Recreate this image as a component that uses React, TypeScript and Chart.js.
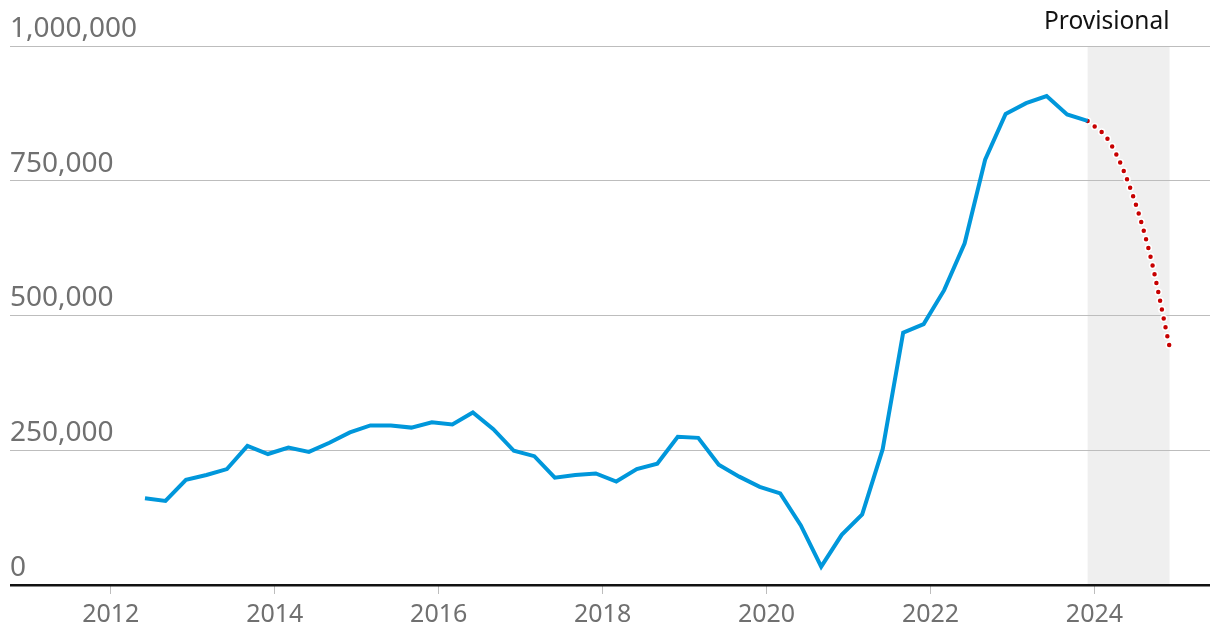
import React, { useEffect, useRef } from "react";
import { Chart, registerables } from "chart.js";

Chart.register(...registerables);

// Quarterly observations (plotted at the first day of the quarter's last month)
const quarters = [
  "Jun 2012", "Sep 2012", "Dec 2012",
  "Mar 2013", "Jun 2013", "Sep 2013", "Dec 2013",
  "Mar 2014", "Jun 2014", "Sep 2014", "Dec 2014",
  "Mar 2015", "Jun 2015", "Sep 2015", "Dec 2015",
  "Mar 2016", "Jun 2016", "Sep 2016", "Dec 2016",
  "Mar 2017", "Jun 2017", "Sep 2017", "Dec 2017",
  "Mar 2018", "Jun 2018", "Sep 2018", "Dec 2018",
  "Mar 2019", "Jun 2019", "Sep 2019", "Dec 2019",
  "Mar 2020", "Jun 2020", "Sep 2020", "Dec 2020",
  "Mar 2021", "Jun 2021", "Sep 2021", "Dec 2021",
  "Mar 2022", "Jun 2022", "Sep 2022", "Dec 2022",
  "Mar 2023", "Jun 2023", "Sep 2023", "Dec 2023",
];

const finalValues = [
  161000, 156000, 195000,
  204000, 215000, 258000, 243000,
  255000, 247000, 264000, 283000,
  296000, 296000, 292000, 302000,
  298000, 320000, 289000, 249000,
  239000, 199000, 204000, 207000,
  192000, 215000, 225000, 275000,
  273000, 223000, 201000, 182000,
  170000, 111000, 34000, 93000,
  131000, 252000, 468000, 484000,
  547000, 634000, 789000, 874000,
  894000, 907000, 873000, 861000,
];

const provisionalQuarters = ["Dec 2023", "Mar 2024", "Jun 2024", "Sep 2024", "Dec 2024"];
const provisionalValues = [861000, 826000, 745000, 620000, 442000];

const xTickYears = [2012, 2014, 2016, 2018, 2020, 2022, 2024];
const yTickValues = [0, 250000, 500000, 750000, 1000000];
const yTickLabels = ["0", "250,000", "500,000", "750,000", "1,000,000"];

const provisionalLabel = "Provisional";
const bandStart = "Dec 2023";
const bandEnd = "Dec 2024";

const MONTHS = ["Jan", "Feb", "Mar", "Apr", "May", "Jun", "Jul", "Aug", "Sep", "Oct", "Nov", "Dec"];
const toX = (label: string) => {
  const [m, y] = label.split(" ");
  return Number(y) + MONTHS.indexOf(m) / 12;
};

const FONT = '"Noto Sans", "DejaVu Sans", sans-serif';

export default function App() {
  const ref = useRef<HTMLCanvasElement | null>(null);

  useEffect(() => {
    document.body.style.margin = "0";
    const canvas = ref.current;
    if (!canvas) return;

    const bandPlugin = {
      id: "provisionalBand",
      beforeDraw(chart: any) {
        const { ctx, chartArea, scales } = chart;
        const x0 = scales.x.getPixelForValue(toX(bandStart));
        const x1 = scales.x.getPixelForValue(toX(bandEnd));
        ctx.save();
        ctx.fillStyle = "#efefef";
        ctx.fillRect(x0, chartArea.top, x1 - x0, chartArea.bottom - chartArea.top);
        ctx.restore();
      },
      afterDraw(chart: any) {
        const { ctx, scales } = chart;
        const x1 = scales.x.getPixelForValue(toX(bandEnd));
        ctx.save();
        ctx.font = `24.5px ${FONT}`;
        ctx.fillStyle = "#121212";
        ctx.textAlign = "right";
        ctx.textBaseline = "alphabetic";
        ctx.fillText(provisionalLabel, x1, 29);
        ctx.restore();
      },
    };

    const provData = () => provisionalQuarters.map((q, i) => ({ x: toX(q), y: provisionalValues[i] }));

    const chart = new Chart(canvas, {
      type: "line",
      data: {
        datasets: [
          {
            label: "Final",
            data: quarters.map((q, i) => ({ x: toX(q), y: finalValues[i] })),
            borderColor: "#0097db",
            borderWidth: 4,
            pointRadius: 0,
            tension: 0,
            fill: false,
            order: 0,
          },
          {
            label: "halo",
            data: provData(),
            borderColor: "#ffffff",
            borderWidth: 7.5,
            borderDash: [0, 9],
            borderCapStyle: "round",
            cubicInterpolationMode: "monotone",
            pointRadius: 0,
            fill: false,
            order: 2,
          },
          {
            label: "Provisional",
            data: provData(),
            borderColor: "#c70000",
            borderWidth: 4.5,
            borderDash: [0, 9],
            borderCapStyle: "round",
            cubicInterpolationMode: "monotone",
            pointRadius: 0,
            fill: false,
            order: 1,
          },
        ],
      },
      options: {
        responsive: false,
        animation: false,
        events: [],
        layout: { padding: { left: 10, right: 10, top: 46, bottom: 0 } },
        plugins: {
          legend: { display: false },
          tooltip: { enabled: false },
        },
        scales: {
          x: {
            type: "linear",
            min: 2010.77,
            max: 2025.41,
            afterBuildTicks: (scale: any) => {
              scale.ticks = xTickYears.map((v) => ({ value: v }));
            },
            afterFit: (scale: any) => {
              scale.height = 59;
            },
            border: { display: false },
            grid: {
              drawOnChartArea: false,
              drawTicks: true,
              tickLength: 9,
              color: "#bdbdbd",
              lineWidth: 1,
            },
            ticks: {
              autoSkip: false,
              maxRotation: 0,
              padding: 6,
              color: "#707070",
              font: { family: FONT, size: 25 },
              callback: (v: any) => String(v),
            },
          },
          y: {
            type: "linear",
            min: 0,
            max: 1000000,
            afterBuildTicks: (scale: any) => {
              scale.ticks = yTickValues.map((v) => ({ value: v }));
            },
            afterFit: (scale: any) => {
              scale.width = 0;
            },
            border: { display: false },
            grid: {
              drawTicks: false,
              color: (c: any) => (c.tick && c.tick.value === 0 ? "#121212" : "#bdbdbd"),
              lineWidth: (c: any) => (c.tick && c.tick.value === 0 ? 2.5 : 1),
            },
            ticks: {
              mirror: true,
              padding: 0,
              labelOffset: -17,
              color: "#707070",
              font: { family: FONT, size: 28 },
              callback: (v: any) => {
                const i = yTickValues.indexOf(Number(v));
                return i >= 0 ? yTickLabels[i] : "";
              },
            },
          },
        },
      },
      plugins: [bandPlugin],
    } as any);

    return () => chart.destroy();
  }, []);

  return (
    <div style={{ position: "fixed", left: 0, top: 0, width: 1220, height: 644, background: "#fff" }}>
      <canvas ref={ref} width={1220} height={644} style={{ display: "block" }} />
    </div>
  );
}
